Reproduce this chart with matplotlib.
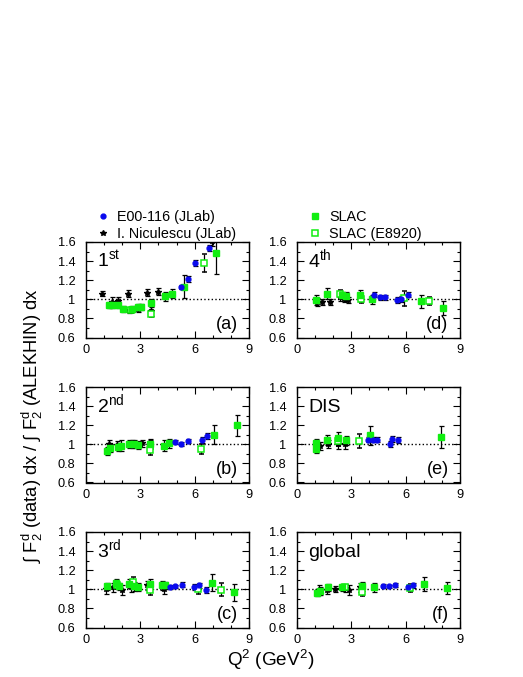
import matplotlib
matplotlib.use("Agg")
import matplotlib.pyplot as plt
from matplotlib.ticker import MultipleLocator
from matplotlib.lines import Line2D

plt.rcParams['font.family'] = ['Liberation Sans', 'DejaVu Sans']
plt.rcParams['mathtext.fontset'] = 'custom'
plt.rcParams['mathtext.rm'] = 'Liberation Sans'
plt.rcParams['mathtext.it'] = 'Liberation Sans:italic'

# ---- data: Q2, ratio, error per panel and data set ----
# panel (a) 1st moment
jlab_q_a = [5.23, 5.62, 6.02, 6.80]
jlab_r_a = [1.13, 1.21, 1.38, 1.54]
jlab_e_a = [0.02, 0.03, 0.03, 0.03]
nic_q_a = [0.90, 1.42, 1.75, 2.34, 2.39, 2.85, 3.35, 3.57, 3.96, 6.95]
nic_r_a = [1.06, 0.97, 0.98, 1.06, 0.89, 0.90, 1.07, 0.88, 1.08, 1.61]
nic_e_a = [0.03, 0.05, 0.04, 0.04, 0.03, 0.03, 0.04, 0.05, 0.04, 0.05]
slac_q_a = [1.27, 1.42, 1.77, 2.06, 2.55, 2.87, 3.02, 3.61, 4.36, 4.73, 5.43, 7.19]
slac_r_a = [0.94, 0.94, 0.94, 0.90, 0.90, 0.92, 0.92, 0.96, 1.03, 1.06, 1.13, 1.48]
slac_e_a = [0.03, 0.03, 0.03, 0.03, 0.03, 0.03, 0.03, 0.04, 0.05, 0.05, 0.12, 0.21]
e89_q_a = [2.47, 3.61, 6.54]
e89_r_a = [0.89, 0.85, 1.38]
e89_e_a = [0.03, 0.04, 0.09]

# panel (b) 2nd moment
jlab_q_b = [4.93, 5.26, 5.65, 6.39, 6.70]
jlab_r_b = [1.02, 1.00, 1.035, 1.045, 1.09]
jlab_e_b = [0.02, 0.02, 0.02, 0.03, 0.03]
nic_q_b = [1.25, 1.71, 2.54, 3.09, 3.55]
nic_r_b = [1.00, 0.99, 1.00, 1.01, 1.01]
nic_e_b = [0.04, 0.04, 0.04, 0.04, 0.05]
slac_q_b = [1.16, 1.34, 1.75, 1.93, 2.39, 2.67, 2.85, 3.55, 4.31, 4.58, 7.07, 8.34]
slac_r_b = [0.93, 0.96, 0.975, 0.985, 1.00, 1.00, 0.99, 1.00, 0.985, 1.01, 1.10, 1.20]
slac_e_b = [0.04, 0.04, 0.04, 0.06, 0.04, 0.04, 0.04, 0.05, 0.06, 0.05, 0.10, 0.11]
e89_q_b = [3.55, 6.35]
e89_r_b = [0.94, 0.95]
e89_e_b = [0.05, 0.055]

# panel (c) 3rd moment
jlab_q_c = [4.62, 4.93, 5.28, 5.98, 6.22, 6.61]
jlab_r_c = [1.025, 1.03, 1.05, 1.025, 1.04, 0.995]
jlab_e_c = [0.02, 0.02, 0.03, 0.03, 0.03, 0.03]
nic_q_c = [1.10, 1.49, 1.99, 2.49, 3.37, 4.33]
nic_r_c = [1.00, 1.02, 0.99, 1.02, 1.04, 1.00]
nic_e_c = [0.05, 0.05, 0.05, 0.05, 0.05, 0.05]
slac_q_c = [1.16, 1.66, 1.80, 2.39, 2.67, 2.85, 3.51, 4.20, 4.38, 6.96, 8.16]
slac_r_c = [1.03, 1.07, 1.03, 1.06, 1.03, 1.025, 1.055, 1.04, 1.04, 1.07, 0.97]
slac_e_c = [0.04, 0.04, 0.04, 0.05, 0.05, 0.04, 0.05, 0.05, 0.04, 0.09, 0.09]
e89_q_c = [1.71, 2.58, 3.51, 6.18, 7.47]
e89_r_c = [1.04, 1.075, 0.995, 1.00, 0.995]
e89_e_c = [0.04, 0.05, 0.05, 0.05, 0.07]

# panel (d) 4th moment
jlab_q_d = [4.27, 4.60, 4.88, 5.52, 5.73, 6.13]
jlab_r_d = [1.05, 1.02, 1.02, 0.99, 1.00, 1.05]
jlab_e_d = [0.03, 0.03, 0.03, 0.03, 0.03, 0.03]
nic_q_d = [1.10, 1.38, 1.80, 2.40, 2.60, 2.80]
nic_r_d = [0.97, 0.97, 0.97, 1.02, 1.00, 0.99]
nic_e_d = [0.04, 0.03, 0.03, 0.04, 0.03, 0.03]
slac_q_d = [1.05, 1.66, 2.48, 2.72, 3.50, 4.14, 6.85, 8.06]
slac_r_d = [0.99, 1.06, 1.04, 1.03, 1.04, 1.00, 0.98, 0.91]
slac_e_d = [0.05, 0.06, 0.04, 0.05, 0.06, 0.05, 0.07, 0.07]
e89_q_d = [2.36, 3.53, 5.93, 7.31]
e89_r_d = [1.06, 1.00, 1.01, 0.98]
e89_e_d = [0.04, 0.04, 0.08, 0.04]

# panel (e) DIS
jlab_q_e = [3.90, 4.20, 4.44, 5.12, 5.25, 5.60]
jlab_r_e = [1.05, 1.05, 1.05, 1.00, 1.055, 1.045]
jlab_e_e = [0.03, 0.03, 0.03, 0.03, 0.03, 0.03]
nic_q_e = [1.25, 1.69, 2.25, 2.67]
nic_r_e = [0.98, 1.00, 1.00, 1.00]
nic_e_e = [0.04, 0.04, 0.05, 0.05]
slac_q_e = [1.03, 1.03, 1.65, 2.28, 2.70, 4.01, 7.93]
slac_r_e = [1.01, 0.955, 1.045, 1.065, 1.04, 1.095, 1.08]
slac_e_e = [0.05, 0.05, 0.05, 0.06, 0.05, 0.10, 0.115]
e89_q_e = [2.29, 3.44]
e89_r_e = [1.03, 1.035]
e89_e_e = [0.05, 0.07]

# panel (f) global
jlab_q_f = [4.73, 5.06, 5.43, 6.11, 6.39]
jlab_r_f = [1.035, 1.03, 1.045, 1.02, 1.04]
jlab_e_f = [0.02, 0.02, 0.02, 0.02, 0.03]
nic_q_f = [1.20, 1.66, 2.12, 2.67, 2.85, 3.50]
nic_r_f = [0.99, 0.99, 1.00, 1.015, 0.99, 1.02]
nic_e_f = [0.05, 0.04, 0.03, 0.04, 0.05, 0.05]
slac_q_f = [1.10, 1.25, 1.71, 2.47, 3.59, 4.27, 7.03, 8.29]
slac_r_f = [0.965, 0.985, 1.02, 1.02, 1.03, 1.02, 1.055, 1.015]
slac_e_f = [0.04, 0.04, 0.04, 0.04, 0.05, 0.05, 0.07, 0.06]
e89_q_f = [2.63, 3.59, 6.26]
e89_r_f = [1.02, 0.975, 1.015]
e89_e_f = [0.03, 0.04, 0.04]

panel_tags = ['a', 'b', 'c', 'd', 'e', 'f']
panel_titles = ['1$^{\\rm st}$', '2$^{\\rm nd}$', '3$^{\\rm rd}$', '4$^{\\rm th}$', 'DIS', 'global']
series_labels = ['E00-116 (JLab)', 'I. Niculescu (JLab)', 'SLAC', 'SLAC (E8920)']

g = globals()
blue = '#0a0aee'
green = '#11ee11'

W, H = 523, 677
fig = plt.figure(figsize=(W / 100, H / 100), dpi=100)

lefts = [86, 86, 86, 297, 297, 297]
tops = [242, 387, 532, 242, 387, 532]
pw, ph = 163, 95.5

for i, tag in enumerate(panel_tags):
    ax = fig.add_axes([lefts[i] / W, 1 - (tops[i] + ph) / H, pw / W, ph / H])
    ax.set_xlim(0, 9)
    ax.set_ylim(0.6, 1.6)
    ax.axhline(1.0, color='black', ls=':', lw=1.0, zorder=1)

    kw = dict(ls='none', ecolor='black', elinewidth=0.9, capsize=1.8, capthick=0.9, zorder=3)
    ax.errorbar(g['nic_q_' + tag], g['nic_r_' + tag], yerr=g['nic_e_' + tag],
                marker='*', ms=4.0, color='black', mec='black', **kw)
    ax.errorbar(g['e89_q_' + tag], g['e89_r_' + tag], yerr=g['e89_e_' + tag],
                marker='s', ms=3.8, mfc='white', mec=green, mew=1.1, **kw)
    ax.errorbar(g['slac_q_' + tag], g['slac_r_' + tag], yerr=g['slac_e_' + tag],
                marker='s', ms=4.0, mfc=green, mec=green, **kw)
    ax.errorbar(g['jlab_q_' + tag], g['jlab_r_' + tag], yerr=g['jlab_e_' + tag],
                marker='o', ms=3.5, mfc=blue, mec=blue, **kw)

    ax.xaxis.set_major_locator(MultipleLocator(3))
    ax.xaxis.set_minor_locator(MultipleLocator(1))
    ax.yaxis.set_minor_locator(MultipleLocator(0.1))
    ax.set_yticks([0.6, 0.8, 1.0, 1.2, 1.4, 1.6])
    ax.set_yticklabels(['0.6', '0.8', '1', '1.2', '1.4', '1.6'])
    ax.tick_params(which='both', direction='in', top=True, right=True,
                   labelsize=9.2, width=0.8)
    ax.tick_params(which='major', length=5, pad=4.5)
    ax.tick_params(axis='y', which='major', pad=7.5)
    ax.tick_params(which='minor', length=2.5)
    for s in ax.spines.values():
        s.set_linewidth(1.0)

    ax.text(0.07, 0.74, panel_titles[i], transform=ax.transAxes, fontsize=14,
            ha='left', va='baseline')
    ax.text(0.93, 0.09, '(' + tag + ')', transform=ax.transAxes, fontsize=13,
            ha='right', va='baseline')

h_jlab = Line2D([], [], ls='none', marker='o', ms=3.5, mfc=blue, mec=blue)
h_nic = Line2D([], [], ls='none', marker='*', ms=4.0, color='black')
h_slac = Line2D([], [], ls='none', marker='s', ms=4.0, mfc=green, mec=green)
h_e89 = Line2D([], [], ls='none', marker='s', ms=3.8, mfc='white', mec=green, mew=1.1)

leg_kw = dict(loc='upper left', frameon=False, fontsize=10.4, handlelength=1.0,
              handletextpad=0.45, borderpad=0, borderaxespad=0, labelspacing=0.18)
fig.legend([h_jlab, h_nic], series_labels[:2], bbox_to_anchor=(96 / W, 1 - 210 / H), **leg_kw)
fig.legend([h_slac, h_e89], series_labels[2:], bbox_to_anchor=(308 / W, 1 - 210 / H), **leg_kw)

fig.text(32 / W, 1 - 426 / H,
         '\u222b F$\\mathregular{_2^d}$ (data) dx / \u222b F$\\mathregular{_2^d}$ (ALEKHIN) dx',
         rotation=90, ha='center', va='center', fontsize=13.2)
fig.text(271 / W, 1 - 660 / H, 'Q$\\mathregular{^2}$ (GeV$\\mathregular{^2}$)',
         ha='center', va='center', fontsize=13.6)

fig.savefig('out.png', dpi=100, facecolor='white')
